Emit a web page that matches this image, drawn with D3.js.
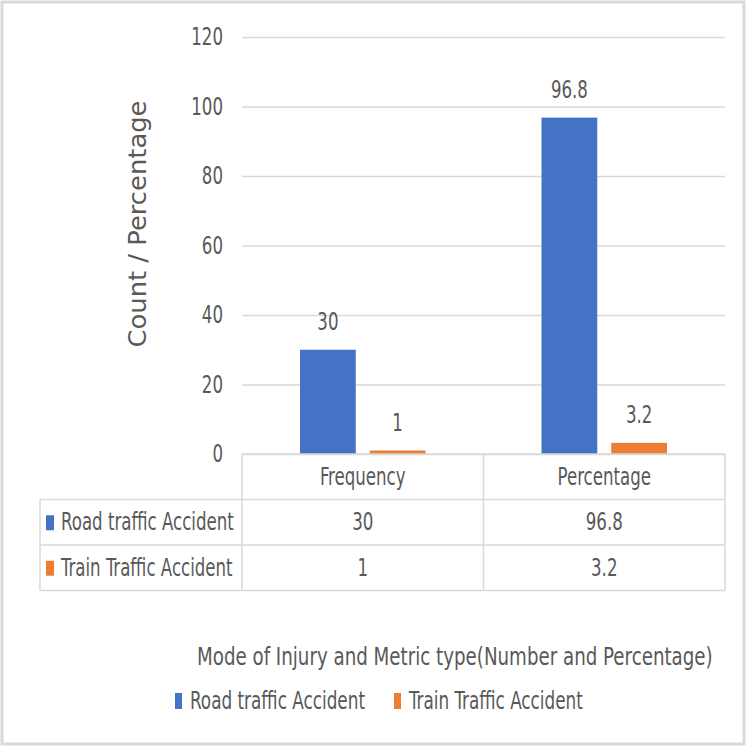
<!DOCTYPE html>
<html>
<head>
<meta charset="utf-8">
<script src="https://cdn.jsdelivr.net/npm/d3@7"></script>
<style>
  html, body { margin: 0; padding: 0; background: #fff; }
  svg { display: block; }
</style>
</head>
<body>
<div id="chart"></div>
<script>
const categories = ['Frequency', 'Percentage'];
const series = ['Road traffic Accident', 'Train Traffic Accident'];
const roadValues = [30, 96.8];
const trainValues = [1, 3.2];
const yTicks = [0, 20, 40, 60, 80, 100, 120];
const colors = ['#4472C4', '#ED7D31'];

const values = [roadValues, trainValues];

const width = 750;
const height = 750;
const plotLeft = 242;
const plotRight = 725;
const plotTop = 37;
const plotBottom = 454;
const rowH = 45.5;
const tableLeft = 40;

const font = "'DejaVu Sans Condensed', 'DejaVu Sans', sans-serif";
const fontSize = '24px';
const narrow = 0.77;
const textColor = '#595959';
const lineColor = '#d9d9d9';

// narrow the text horizontally, the original uses a condensed face
function squeeze(sel, k) {
  sel.each(function () {
    const w = this.getComputedTextLength();
    d3.select(this).attr('textLength', w * k).attr('lengthAdjust', 'spacingAndGlyphs');
  });
}

const svg = d3
  .select('#chart')
  .append('svg')
  .attr('width', width)
  .attr('height', height);

// outer frame
svg
  .append('rect')
  .attr('x', 2)
  .attr('y', 2)
  .attr('width', 742)
  .attr('height', 742)
  .attr('fill', '#fff')
  .attr('stroke', lineColor)
  .attr('stroke-width', 3);

/* Scales
=========================================================================*/
const x0 = d3.scaleBand().domain(categories).range([plotLeft, plotRight]);
const x1 = d3
  .scaleBand()
  .domain(series)
  .range([58, x0.bandwidth() - 58])
  .paddingInner(0.2);
const y = d3.scaleLinear().domain([0, 120]).range([plotBottom, plotTop]);

/* Grid + Y axis
=========================================================================*/
const yAxis = d3
  .axisLeft(y)
  .tickValues(yTicks)
  .tickSize(-(plotRight - plotLeft))
  .tickPadding(19)
  .tickFormat(d3.format('d'));

const yg = svg.append('g').attr('transform', `translate(${plotLeft},0)`).call(yAxis);
yg.select('.domain').remove();
yg.selectAll('.tick line').attr('stroke', lineColor).attr('stroke-width', 1.5);
yg.selectAll('.tick text')
  .attr('fill', textColor)
  .style('font-family', font)
  .style('font-size', fontSize)
  .call(squeeze, narrow);

svg
  .append('text')
  .attr('transform', `translate(146, 224) rotate(-90)`)
  .attr('text-anchor', 'middle')
  .attr('fill', textColor)
  .style('font-family', "'DejaVu Sans', Verdana, sans-serif")
  .style('font-size', '24px')
  .attr('textLength', 247)
  .attr('lengthAdjust', 'spacingAndGlyphs')
  .text('Count / Percentage');

/* Bars
=========================================================================*/
const groups = svg
  .selectAll('g.cat')
  .data(categories)
  .enter()
  .append('g')
  .attr('class', 'cat')
  .attr('transform', (d) => `translate(${x0(d)},0)`);

const cells = (d, i) => series.map((s, j) => ({ s, j, v: values[j][i] }));

groups
  .selectAll('rect')
  .data(cells)
  .enter()
  .append('rect')
  .attr('x', (d) => x1(d.s))
  .attr('y', (d) => y(d.v))
  .attr('width', x1.bandwidth())
  .attr('height', (d) => y(0) - y(d.v))
  .attr('fill', (d) => colors[d.j]);

groups
  .selectAll('text.lbl')
  .data(cells)
  .enter()
  .append('text')
  .attr('class', 'lbl')
  .attr('x', (d) => x1(d.s) + x1.bandwidth() / 2)
  .attr('y', (d) => y(d.v) - 20)
  .attr('text-anchor', 'middle')
  .attr('fill', textColor)
  .style('font-family', font)
  .style('font-size', fontSize)
  .text((d) => d.v)
  .call(squeeze, narrow);

/* Data table
=========================================================================*/
const table = svg.append('g').attr('stroke', lineColor).attr('stroke-width', 1.5).attr('fill', 'none');
const rowTop = (r) => plotBottom + r * rowH;

table.append('line').attr('x1', plotLeft).attr('x2', plotRight).attr('y1', rowTop(0)).attr('y2', rowTop(0));
[1, 2, 3].forEach((r) => {
  table
    .append('line')
    .attr('x1', tableLeft)
    .attr('x2', plotRight)
    .attr('y1', rowTop(r))
    .attr('y2', rowTop(r));
});
table.append('line').attr('x1', tableLeft).attr('x2', tableLeft).attr('y1', rowTop(1)).attr('y2', rowTop(3));
[plotLeft, x0('Percentage'), plotRight].forEach((x) => {
  table.append('line').attr('x1', x).attr('x2', x).attr('y1', rowTop(0)).attr('y2', rowTop(3));
});

const cellText = (x, yy, t, anchor) =>
  svg
    .append('text')
    .attr('x', x)
    .attr('y', yy)
    .attr('text-anchor', anchor)
    .attr('dominant-baseline', 'central')
    .attr('fill', textColor)
    .style('font-family', font)
    .style('font-size', fontSize)
    .text(t)
    .call(squeeze, narrow);

categories.forEach((c) => cellText(x0(c) + x0.bandwidth() / 2, rowTop(0) + rowH / 2, c, 'middle'));

series.forEach((s, j) => {
  const cy = rowTop(j + 1) + rowH / 2;
  svg
    .append('rect')
    .attr('x', 46)
    .attr('y', cy - 7)
    .attr('width', 8)
    .attr('height', 15)
    .attr('fill', colors[j]);
  cellText(61, cy, s, 'start');
  categories.forEach((c, i) => cellText(x0(c) + x0.bandwidth() / 2, cy, values[j][i], 'middle'));
});

/* X title + legend
=========================================================================*/
const xTitle = svg
  .append('text')
  .attr('x', 0)
  .attr('y', 0)
  .attr('dominant-baseline', 'central')
  .attr('fill', textColor)
  .style('font-family', font)
  .style('font-size', '25px')
  .text('Mode of Injury and Metric type(Number and Percentage)');
const titleW = xTitle.node().getComputedTextLength();
xTitle.attr('transform', `translate(197, 656) scale(${516 / titleW}, 1)`);

const legendX = [175, 394];
const legend = svg
  .selectAll('g.legend')
  .data(series)
  .enter()
  .append('g')
  .attr('class', 'legend')
  .attr('transform', (d, i) => `translate(${legendX[i]}, 701)`);

legend
  .append('rect')
  .attr('x', 0)
  .attr('y', -8)
  .attr('width', 7)
  .attr('height', 16)
  .attr('fill', (d, i) => colors[i]);

legend
  .append('text')
  .attr('x', 15)
  .attr('y', 0)
  .attr('dominant-baseline', 'central')
  .attr('fill', textColor)
  .style('font-family', font)
  .style('font-size', fontSize)
  .text((d) => d)
  .call(squeeze, 0.78);
</script>
</body>
</html>
